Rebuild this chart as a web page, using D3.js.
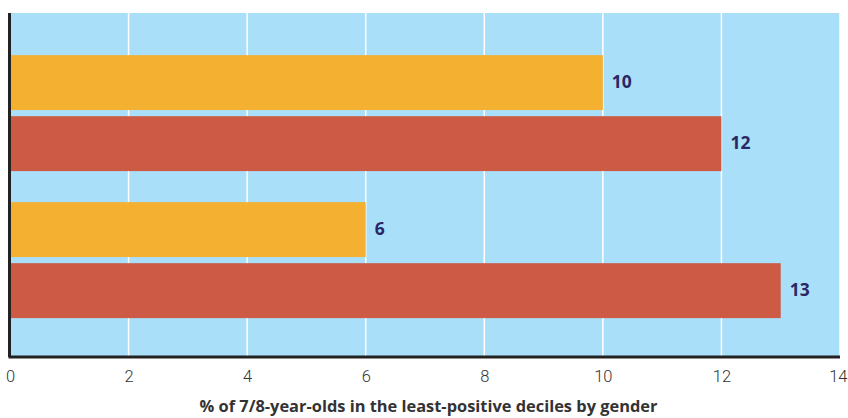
<!DOCTYPE html>
<html><head><meta charset="utf-8">
<script src="https://cdn.jsdelivr.net/npm/d3@7/dist/d3.min.js"></script>
<style>body{margin:0;background:#fff}svg{display:block}</style>
</head><body>
<svg id="c" width="848" height="418"></svg>
<script>
const groups = ["Group A", "Group B"];
const series = ["Girls", "Boys"];
const orangeValues = [10, 6];
const redValues = [12, 13];
const xTicks = [0, 2, 4, 6, 8, 10, 12, 14];
const axisTitle = "% of 7/8-year-olds in the least-positive deciles by gender";
const colors = ["#F4B030", "#CC5A45"];

const data = groups.map((g, i) => ({group: g, values: [orangeValues[i], redValues[i]]}));

const svg = d3.select("#c");
const m = {left: 10, right: 8, top: 13, bottom: 61};
const W = 848, H = 418;
const x = d3.scaleLinear().domain([0, 14]).range([m.left, W - m.right]);
const y0 = d3.scaleBand().domain(groups).range([m.top, H - m.bottom])
  .paddingInner(0.211).paddingOuter(0.2755).align(0.52);
const y1 = d3.scaleBand().domain(series).range([0, y0.bandwidth()]).paddingInner(0.1);

svg.append("rect").attr("x", x(0)).attr("y", m.top).attr("width", x(14) - x(0)).attr("height", H - m.bottom - m.top).attr("fill", "#A9DFF9");

svg.append("g").selectAll("line").data(xTicks.filter(d => d > 0)).join("line")
  .attr("x1", d => x(d)).attr("x2", d => x(d)).attr("y1", m.top).attr("y2", H - m.bottom)
  .attr("stroke", "#fff").attr("stroke-width", 1.5);

const g = svg.append("g").selectAll("g").data(data).join("g")
  .attr("transform", d => `translate(0,${y0(d.group)})`);
g.selectAll("rect").data(d => d.values.map((v, i) => ({s: series[i], v, i}))).join("rect")
  .attr("x", x(0)).attr("y", d => y1(d.s)).attr("width", d => x(d.v) - x(0)).attr("height", y1.bandwidth())
  .attr("fill", d => colors[d.i]);
g.selectAll("text").data(d => d.values.map((v, i) => ({s: series[i], v, i}))).join("text")
  .attr("x", d => x(d.v) + 9).attr("y", d => y1(d.s) + y1.bandwidth() / 2).attr("dy", "0.3em")
  .attr("font-family", "'Open Sans', sans-serif").attr("font-weight", "bold").attr("font-size", 17.5)
  .attr("fill", "#2A2864").text(d => d.v);

const xAxis = svg.append("g").attr("transform", `translate(0,${H - m.bottom})`)
  .call(d3.axisBottom(x).tickValues(xTicks).tickSize(0).tickPadding(13));
xAxis.select(".domain").remove();
xAxis.selectAll("text").attr("font-family", "Roboto, sans-serif").attr("font-weight", 300).attr("font-size", 16.5).attr("fill", "#333");
xAxis.selectAll(".tick").filter(d => d === 14).select("text")
  .attr("text-anchor", "end").attr("x", W - 1 - x(14));

svg.append("line").attr("x1", x(0) - 1.5).attr("x2", x(14)).attr("y1", H - m.bottom).attr("y2", H - m.bottom)
  .attr("stroke", "#222").attr("stroke-width", 3);
svg.append("line").attr("x1", x(0) - 0.5).attr("x2", x(0) - 0.5).attr("y1", m.top).attr("y2", H - m.bottom)
  .attr("stroke", "#222").attr("stroke-width", 3);

svg.append("text").attr("x", (196 + 661) / 2).attr("y", 412).attr("text-anchor", "middle")
  .attr("font-family", "'Open Sans', sans-serif").attr("font-weight", "bold").attr("font-size", 16.4)
  .attr("fill", "#333").text(axisTitle);
</script>
</body></html>
